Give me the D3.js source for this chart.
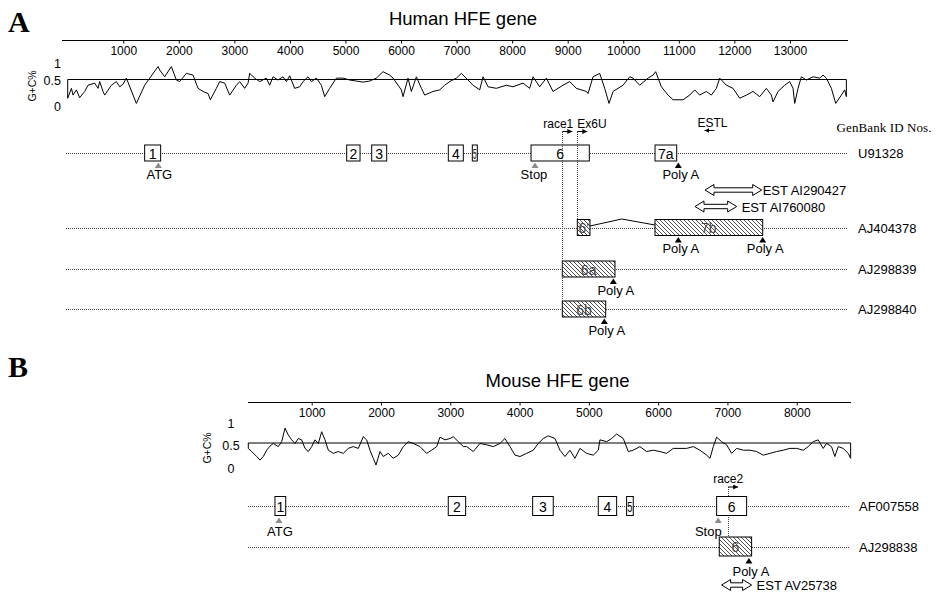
<!DOCTYPE html>
<html><head><meta charset="utf-8">
<script src="https://cdn.jsdelivr.net/npm/d3@7"></script>
<style>
body{margin:0;background:#fff}
svg{display:block;font-family:Arial,"Liberation Sans",sans-serif}
</style>
</head><body>
<svg id="c" width="937" height="604"></svg>
<script>
// ---------------- DATA ----------------
const humanTicks = [1000,2000,3000,4000,5000,6000,7000,8000,9000,10000,11000,12000,13000];
const mouseTicks = [1000,2000,3000,4000,5000,6000,7000,8000];
const gcTickVals = [0, 0.5, 1];
const gcTickLabels = ["0", "0.5", "1"];

// G+C fraction along the human gene (bp position, value)
const gcHumanPos = [0,67,96,156,216,306,366,486,546,576,
 636,666,786,876,936,996,1056,1236,1386,1476,
 1626,1656,1746,1866,1956,2016,2136,2256,2346,2436,
 2526,2568,2676,2736,2826,2916,3036,3096,3186,3246,
 3276,3366,3456,3576,3636,3696,3786,3876,3936,3996,
 4086,4176,4236,4326,4386,4476,4566,4626,4716,4836,
 4956,5076,5196,5316,5436,5556,5676,5796,5856,6006,
 6036,6126,6186,6276,6366,6426,6576,6696,6786,6876,
 6996,7086,7206,7296,7416,7476,7566,7716,7896,8016,
 8196,8316,8376,8496,8616,8736,8916,9036,9156,9336,
 9366,9456,9576,9666,9744,9816,9996,10116,10176,10296,
 10446,10536,10584,10686,10806,10896,11076,11196,11286,11376,
 11496,11586,11676,11736,11856,11976,12096,12216,12336,12456,
 12576,12666,12696,12786,12906,12996,13056,13086,13146,13206,
 13296,13416,13536,13596,13656,13746,13824,13926,13986,14016];
const gcHumanVal = [.14,.33,.20,.30,.15,.27,.39,.43,.33,.46,
 .27,.20,.39,.46,.36,.41,.54,.04,.39,.54,
 .88,.78,.58,.88,.49,.46,.68,.63,.33,.27,
 .23,.11,.33,.46,.43,.20,.39,.46,.33,.43,
 .68,.54,.46,.54,.39,.58,.49,.58,.46,.61,
 .33,.36,.46,.58,.46,.54,.39,.17,.33,.54,
 .54,.49,.47,.45,.47,.54,.73,.63,.54,.30,
 .17,.54,.27,.58,.33,.20,.27,.30,.39,.46,
 .54,.68,.49,.39,.30,.58,.36,.33,.39,.36,
 .43,.33,.58,.36,.54,.27,.39,.46,.33,.27,
 .23,.58,.68,.33,.04,.27,.39,.58,.54,.39,
 .54,.63,.73,.36,.20,.11,.11,.20,.30,.20,
 .27,.20,.33,.54,.39,.33,.14,.20,.27,.17,
 .33,.20,.07,.27,.39,.46,.33,.04,.33,.58,
 .49,.58,.54,.63,.54,.33,.04,.20,.30,.17];

// G+C fraction along the mouse gene
const gcMousePos = [85,134,206,254,302,350,398,446,518,567,
 615,662,711,759,807,855,903,951,1000,1048,
 1096,1144,1192,1240,1312,1384,1456,1528,1600,1673,
 1745,1793,1841,1889,1928,1986,2033,2105,2177,2250,
 2322,2394,2466,2563,2659,2731,2804,2851,2924,2996,
 3043,3116,3188,3237,3332,3429,3525,3621,3717,3789,
 3861,3934,4006,4102,4198,4270,4342,4414,4511,4583,
 4655,4727,4799,4871,4968,5064,5136,5160,5257,5329,
 5401,5497,5569,5641,5737,5834,5930,6026,6122,6218,
 6315,6411,6507,6603,6700,6748,6796,6844,6916,6988,
 7061,7133,7229,7325,7421,7517,7613,7710,7806,7902,
 7998,8094,8166,8238,8310,8382,8430,8502,8550,8599,
 8671,8743,8778];
const gcMouseVal = [.38,.31,.20,.12,.20,.34,.43,.49,.42,.53,
 .83,.68,.57,.49,.60,.57,.38,.31,.42,.57,
 .49,.75,.57,.34,.27,.31,.27,.38,.42,.38,
 .64,.57,.34,.16,.01,.31,.20,.27,.16,.23,
 .42,.53,.49,.42,.27,.34,.42,.63,.57,.60,
 .64,.53,.42,.42,.31,.49,.46,.42,.49,.60,
 .42,.23,.20,.27,.34,.49,.60,.66,.60,.34,
 .20,.34,.16,.38,.27,.23,.34,.57,.53,.60,
 .70,.60,.31,.34,.42,.31,.34,.31,.27,.38,
 .38,.38,.42,.34,.23,.16,.42,.63,.53,.46,
 .27,.38,.34,.34,.31,.23,.27,.31,.34,.38,
 .38,.34,.42,.53,.57,.38,.49,.42,.20,.42,
 .38,.27,.16];

const humanRows = ["U91328","AJ404378","AJ298839","AJ298840"];
const mouseRows = ["AF007558","AJ298838"];

const humanExons = [
 {row:"U91328",  label:"1",  start:1385, end:1673, kind:"genomic"},
 {row:"U91328",  label:"2",  start:5022, end:5262, kind:"genomic"},
 {row:"U91328",  label:"3",  start:5472, end:5742, kind:"genomic"},
 {row:"U91328",  label:"4",  start:6851, end:7121, kind:"genomic"},
 {row:"U91328",  label:"5",  start:7283, end:7373, kind:"genomic"},
 {row:"U91328",  label:"6",  start:8340, end:9389, kind:"genomic"},
 {row:"U91328",  label:"7a", start:10572,end:10962,kind:"genomic"},
 {row:"AJ404378",label:"6'", start:9173, end:9401, kind:"cDNA"},
 {row:"AJ404378",label:"7b", start:10571,end:12510,kind:"cDNA"},
 {row:"AJ298839",label:"6a", start:8903, end:9851, kind:"cDNA"},
 {row:"AJ298840",label:"6b", start:8903, end:9684, kind:"cDNA"}
];
const mouseExons = [
 {row:"AF007558",label:"1",start:470, end:625, kind:"genomic"},
 {row:"AF007558",label:"2",start:2971,end:3222,kind:"genomic"},
 {row:"AF007558",label:"3",start:4189,end:4486,kind:"genomic"},
 {row:"AF007558",label:"4",start:5136,end:5401,kind:"genomic"},
 {row:"AF007558",label:"5",start:5545,end:5641,kind:"genomic"},
 {row:"AF007558",label:"6",start:6844,end:7277,kind:"genomic"},
 {row:"AJ298838",label:"6",start:6882,end:7349,kind:"cDNA"}
];
const humanSites = [
 {row:"U91328",  label:"ATG",   pos:1631,  kind:"start"},
 {row:"U91328",  label:"Stop",  pos:8411,  kind:"stop"},
 {row:"U91328",  label:"Poly A",pos:10991, kind:"polyA"},
 {row:"AJ404378",label:"Poly A",pos:10991, kind:"polyA"},
 {row:"AJ404378",label:"Poly A",pos:12510, kind:"polyA"},
 {row:"AJ298839",label:"Poly A",pos:9821,  kind:"polyA"},
 {row:"AJ298840",label:"Poly A",pos:9659,  kind:"polyA"}
];
const mouseSites = [
 {row:"AF007558",label:"ATG",   pos:528,  kind:"start"},
 {row:"AF007558",label:"Stop",  pos:6867, kind:"stop"},
 {row:"AJ298838",label:"Poly A",pos:7310, kind:"polyA"}
];
const humanESTs = [
 {name:"EST AI290427", start:11471, end:12492},
 {name:"EST AI760080", start:11291, end:12042}
];
const mouseESTs = [
 {name:"EST AV25738", start:6916, end:7349}
];
const humanPrimers = [
 {name:"race1", pos:8903,  dir:1,  toRow:"AJ298840"},
 {name:"Ex6U",  pos:9173,  dir:1,  toRow:"AJ404378"},
 {name:"ESTL",  pos:11642, dir:-1, toRow:null}
];
const mousePrimers = [
 {name:"race2", pos:7011, dir:1, toRow:"AJ298838"}
];
const humanSplices = [
 {row:"AJ404378", from:9401, peak:9972, to:10571}
];

// ---------------- DRAWING ----------------
const svg = d3.select("#c");
svg.append("rect").attr("width",937).attr("height",604).attr("fill","#fff");
const defs = svg.append("defs");
const pat = defs.append("pattern").attr("id","hatch")
  .attr("patternUnits","userSpaceOnUse").attr("width",4).attr("height",4);
pat.append("rect").attr("width",4).attr("height",4).attr("fill","#fff");
pat.append("path").attr("d","M-1,-1L5,5M3,-1L5,1M-1,3L1,5")
  .attr("stroke","#222").attr("stroke-width",0.8);
defs.append("marker").attr("id","ah").attr("markerUnits","userSpaceOnUse")
  .attr("markerWidth",5).attr("markerHeight",5).attr("refX",5).attr("refY",2.5)
  .attr("orient","auto")
  .append("path").attr("d","M0,0L5,2.5L0,5Z").attr("fill","#000");

const FONT = "Arial, 'Liberation Sans', sans-serif";
const SERIF = "'Liberation Serif','Times New Roman',serif";

// scales
const xH = d3.scaleLinear().domain([0,14040]).range([67.7,847.7]);
const xM = d3.scaleLinear().domain([0,8779]).range([242.4,850.7]);
const gcYH = d3.scaleLinear().domain([0,0.5,1]).range([105.5,79.5,62.5]);
const gcYM = d3.scaleLinear().domain([0,1]).range([465.5,420.5]);
const rowYH = d3.scaleOrdinal().domain(humanRows).range([153,227.5,269,309]);
const rowYM = d3.scaleOrdinal().domain(mouseRows).range([506,546.5]);

// panel letters & titles
svg.append("text").attr("x",8).attr("y",32).attr("font-family",SERIF)
  .attr("font-weight","bold").attr("font-size",30).text("A");
svg.append("text").attr("x",8).attr("y",377).attr("font-family",SERIF)
  .attr("font-weight","bold").attr("font-size",30).text("B");
svg.append("text").attr("x",463).attr("y",25).attr("text-anchor","middle").attr("font-size",18.5).text("Human HFE gene");
svg.append("text").attr("x",557.5).attr("y",387).attr("text-anchor","middle").attr("font-size",18.5).text("Mouse HFE gene");

function drawAxis(x, y, ticks, from, to){
  svg.append("line").attr("x1",x(from)).attr("x2",x(to)).attr("y1",y).attr("y2",y)
    .attr("stroke","#000").attr("shape-rendering","crispEdges");
  const g = svg.append("g").attr("transform",`translate(0,${y})`)
    .call(d3.axisBottom(x).tickValues(ticks).tickSize(3).tickPadding(2.5).tickFormat(d3.format("d")));
  g.select(".domain").remove();
  g.selectAll("line").attr("stroke","#000");
  g.selectAll("text").attr("font-size",12).attr("font-family",FONT).attr("fill","#000");
}
drawAxis(xH, 40.5, humanTicks, -100, 14040);
drawAxis(xM, 402.5, mouseTicks, 85, 8779);

function drawGC(x, y, pos, vals, labelX, anchor, labelDy, titleX, titleY){
  const data = d3.zip(pos, vals);
  const x0 = x(pos[0]), x1 = x(pos[pos.length-1]), ym = y(0.5);
  svg.append("path")
    .attr("d",`M${x0},${y(vals[0])}V${ym}H${x1}V${y(vals[vals.length-1])}`)
    .attr("fill","none").attr("stroke","#000").attr("stroke-width",1);
  svg.append("path").datum(data)
    .attr("d", d3.line().x(d=>x(d[0])).y(d=>y(d[1])))
    .attr("fill","none").attr("stroke","#000").attr("stroke-width",1);
  svg.selectAll(null).data(gcTickVals).enter().append("text")
    .attr("x",labelX).attr("y",d=>y(d)+labelDy).attr("text-anchor",anchor)
    .attr("dominant-baseline","central").attr("font-size",12.5)
    .text((d,i)=>gcTickLabels[i]);
  svg.append("text").attr("transform",`translate(${titleX},${titleY}) rotate(-90)`)
    .attr("text-anchor","middle").attr("dominant-baseline","central")
    .attr("font-size",10.5).text("G+C%");
}
drawGC(xH, gcYH, gcHumanPos, gcHumanVal, 61, "end", 1.5, 32, 86);
drawGC(xM, gcYM, gcMousePos, gcMouseVal, 231, "middle", 3, 206.5, 448);

function dotted(x1,y1,x2,y2){
  svg.append("line").attr("x1",x1).attr("x2",x2).attr("y1",y1).attr("y2",y2)
    .attr("stroke","#444").attr("stroke-width",1).attr("stroke-dasharray","1,1")
    .attr("shape-rendering","crispEdges");
}

function drawTrack(opts){
  const {x, rowY, rows, from, to, exons, sites, boxH, labelX, triTop, textBase, siteDx} = opts;
  rows.forEach(r=>{
    dotted(x(from), Math.round(rowY(r))+0.5, x(to), Math.round(rowY(r))+0.5);
    svg.append("text").attr("x",labelX).attr("y",rowY(r)+0.5).attr("dominant-baseline","central")
      .attr("font-size",13).text(r);
  });
  if (opts.before) opts.before();
  exons.forEach(e=>{
    const x0 = x(e.start), x1 = x(e.end), yc = rowY(e.row);
    svg.append("rect").attr("x",x0).attr("y",yc-boxH/2).attr("width",x1-x0).attr("height",boxH)
      .attr("fill", e.kind==="cDNA" ? "url(#hatch)" : "#fff")
      .attr("stroke","#000").attr("stroke-width",1);
    const t = svg.append("text").attr("x",(x0+x1)/2).attr("y",yc+0.5)
      .attr("text-anchor","middle").attr("dominant-baseline","central")
      .attr("font-size",14).attr("fill", e.kind==="cDNA" ? "#444" : "#000").text(e.label);
    if (x1-x0 < 8) t.attr("textLength", Math.max(2,x1-x0-1.5)).attr("lengthAdjust","spacingAndGlyphs");
  });
  sites.forEach(s=>{
    const cx = x(s.pos), top = rowY(s.row)+triTop;
    svg.append("path").attr("d",`M${cx},${top}L${cx+3.5},${top+5.5}L${cx-3.5},${top+5.5}Z`)
      .attr("fill", s.kind==="polyA" ? "#000" : "#8a8a8a");
    const o = siteDx[s.kind];
    svg.append("text").attr("x",cx+o.dx).attr("y",rowY(s.row)+textBase)
      .attr("text-anchor",o.anchor).attr("font-size",13).text(s.label);
  });
}

function drawESTs(x, ests, y0, step){
  ests.forEach((e,i)=>{
    const a = x(e.start), b = x(e.end), cy = y0 + i*step;
    const H = 5.5, s = 2.2, h = 9;
    svg.append("path").attr("d",
      `M${a},${cy}L${a+h},${cy-H}L${a+h},${cy-s}L${b-h},${cy-s}L${b-h},${cy-H}L${b},${cy}` +
      `L${b-h},${cy+H}L${b-h},${cy+s}L${a+h},${cy+s}L${a+h},${cy+H}Z`)
      .attr("fill","#fff").attr("stroke","#000").attr("stroke-width",1);
    svg.append("text").attr("x",b+ (i===0 && ests.length>1 ? 1 : 5)).attr("y",cy+0.5)
      .attr("dominant-baseline","central").attr("font-size",13).text(e.name);
  });
}

// ---- Human track ----
drawTrack({
  x:xH, rowY:rowYH, rows:humanRows, from:-30, to:14040, exons:humanExons, sites:humanSites,
  boxH:16, labelX:858, triTop:9.5, textBase:25.5,
  siteDx:{start:{dx:1,anchor:"middle"}, stop:{dx:-1,anchor:"middle"}, polyA:{dx:2.5,anchor:"middle"}}
});
humanSplices.forEach(s=>{
  const yc = rowYH(s.row);
  svg.append("path").attr("d",`M${xH(s.from)},${yc-1.5}L${xH(s.peak)},${yc-8.5}L${xH(s.to)},${yc-2.5}`)
    .attr("fill","none").attr("stroke","#000").attr("stroke-width",1);
});
const primerY = 131.5;
humanPrimers.forEach(p=>{
  const px = xH(p.pos);
  if (p.toRow) dotted(Math.round(px)+0.5, primerY, Math.round(px)+0.5, rowYH(p.toRow)-8);
  const ay = p.dir>0 ? primerY : primerY-1;
  svg.append("line").attr("x1",px).attr("x2",px+p.dir*10).attr("y1",ay).attr("y2",ay)
    .attr("stroke","#000").attr("stroke-width",1).attr("marker-end","url(#ah)");
  const t = svg.append("text").attr("y",p.dir>0 ? 127.5 : 126.5).attr("font-size",12).text(p.name);
  if (p.name==="race1") t.attr("x",px+11).attr("text-anchor","end");
  else if (p.dir>0) t.attr("x",px).attr("text-anchor","start");
  else t.attr("x",px-2).attr("text-anchor","middle");
});
drawESTs(xH, humanESTs, 190, 16.5);
svg.append("text").attr("x",836.5).attr("y",132).attr("font-family",SERIF)
  .attr("font-size",13).attr("textLength",95).attr("lengthAdjust","spacing").text("GenBank ID Nos.");

// ---- Mouse track ----
drawTrack({
  x:xM, rowY:rowYM, rows:mouseRows, from:85, to:8750, exons:mouseExons, sites:mouseSites,
  boxH:19, labelX:859, triTop:11.5, textBase:29.5,
  siteDx:{start:{dx:1,anchor:"middle"}, stop:{dx:3.5,anchor:"end"}, polyA:{dx:2,anchor:"middle"}},
  before: ()=>{
    mousePrimers.forEach(p=>{
      const px = xM(p.pos);
      dotted(Math.round(px)+0.5, 487, Math.round(px)+0.5, rowYM(p.toRow)-9.5);
    });
  }
});
mousePrimers.forEach(p=>{
  const px = xM(p.pos);
  svg.append("line").attr("x1",px).attr("x2",px+p.dir*10).attr("y1",487).attr("y2",487)
    .attr("stroke","#000").attr("stroke-width",1).attr("marker-end","url(#ah)");
  svg.append("text").attr("x",px).attr("y",482.5).attr("text-anchor","middle").attr("font-size",12).text(p.name);
});
drawESTs(xM, mouseESTs, 585, 0);
</script>
</body></html>
